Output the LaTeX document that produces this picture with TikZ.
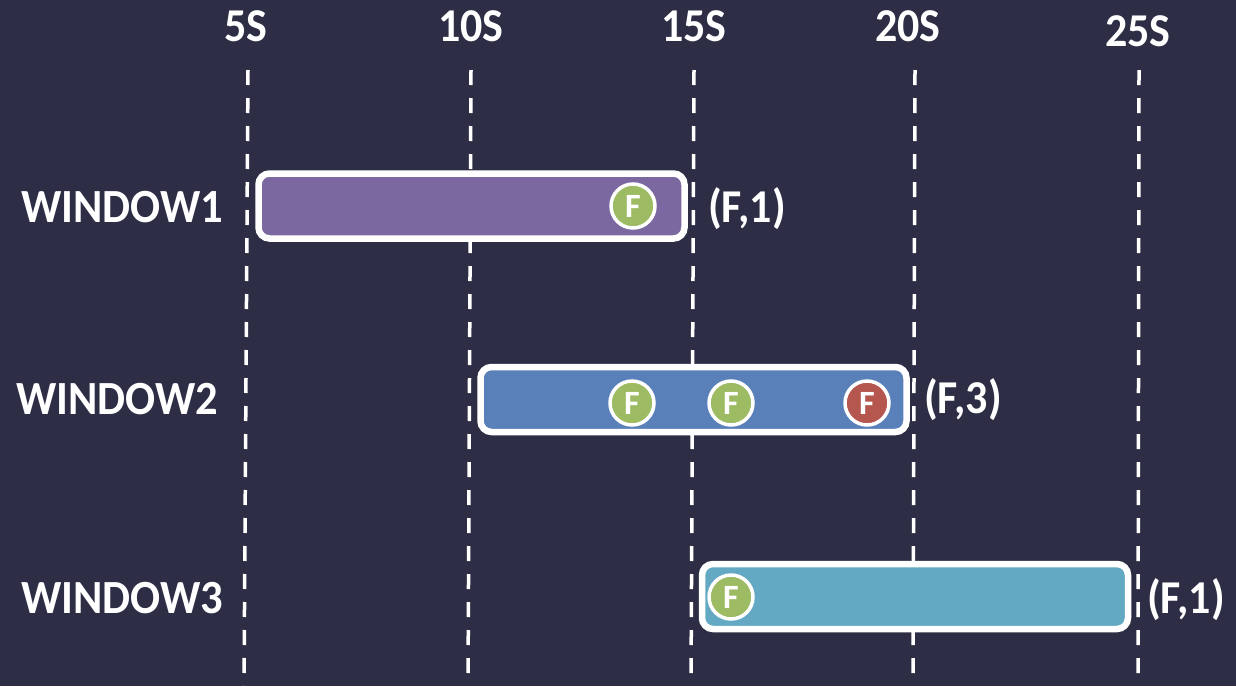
\documentclass[tikz,border=0pt]{standalone}
\usepackage{fontspec}
\setmainfont{Carlito}
\definecolor{bg}{HTML}{2D2E45}
\definecolor{wpurple}{HTML}{7B68A0}
\definecolor{wblue}{HTML}{5A80B9}
\definecolor{waqua}{HTML}{63A9C3}
\definecolor{fgreen}{HTML}{9DBB63}
\definecolor{fred}{HTML}{B5564F}
\newcommand{\tallbox}[1]{\scalebox{1}[1.07]{#1}}
\newcommand{\fmark}{{\fontsize{34}{34}\selectfont\bfseries F}}
\begin{document}
\begin{tikzpicture}[x=1pt,y=-1pt,
  grid/.style={white,line width=3.5pt,dash pattern=on 15pt off 13pt},
  tick/.style={white,font=\fontsize{44}{44}\selectfont\bfseries},
  wlabel/.style={white,font=\fontsize{44.5}{44}\selectfont\bfseries},
  win/.style={draw=white,line width=6.5pt,rounded corners=11pt,minimum width=426pt,minimum height=65pt,inner sep=0pt},
  fdot/.style={circle,draw=white,line width=3.5pt,minimum size=44pt,inner sep=0pt,text=white},
  count/.style={white,anchor=west,inner sep=0pt,font=\fontsize{44}{44}\selectfont\bfseries}]
\fill[bg] (0,0) rectangle (1236,686);
\useasboundingbox (0,0) rectangle (1236,686);
% time ticks
\node[tick] (t5) at (246,26) {\tallbox{5S}};
\node[tick] (t10) at (471,26) {\tallbox{10S}};
\node[tick] (t15) at (694,26) {\tallbox{15S}};
\node[tick] (t20) at (908,26) {\tallbox{20S}};
\node[tick] (t25) at (1138,31) {\tallbox{25S}};
\coordinate (g5a) at (248,70);  \coordinate (g5b) at (244,686);
\coordinate (g10a) at (471,70); \coordinate (g10b) at (468,686);
\coordinate (g15a) at (694,70); \coordinate (g15b) at (691,686);
\coordinate (g20a) at (915,70); \coordinate (g20b) at (913,686);
\coordinate (g25a) at (1139,70); \coordinate (g25b) at (1138,686);
\draw[grid] (g5a) -- (g5b);
\draw[grid] (g10a) -- (g10b);
\draw[grid] (g15a) -- (g15b);
\draw[grid] (g20a) -- (g20b);
\draw[grid] (g25a) -- (g25b);
% window labels
\node[wlabel] (l1) at (122,207) {\tallbox{WINDOW1}};
\node[wlabel] (l2) at (117,399) {\tallbox{WINDOW2}};
\node[wlabel] (l3) at (122,598) {\tallbox{WINDOW3}};
% windows
\node[win,fill=wpurple] (w1) at (471.5,206) {};
\node[win,fill=wblue] (w2) at (693.5,399.5) {};
\node[win,fill=waqua] (w3) at (915,596.5) {};
% events
\node[fdot,fill=fgreen] (f1) at (633,206) {\fmark};
\node[fdot,fill=fgreen] (f2) at (632,403) {\fmark};
\node[fdot,fill=fgreen] (f3) at (731,403) {\fmark};
\node[fdot,fill=fred] (f4) at (867,403) {\fmark};
\node[fdot,fill=fgreen] (f5) at (731,597) {\fmark};
% counts
\node[count] (c1) at (708,209) {\tallbox{(F,1)}};
\node[count] (c2) at (924,400) {\tallbox{(F,3)}};
\node[count] (c3) at (1147,600) {\tallbox{(F,1)}};
\end{tikzpicture}
\end{document}
